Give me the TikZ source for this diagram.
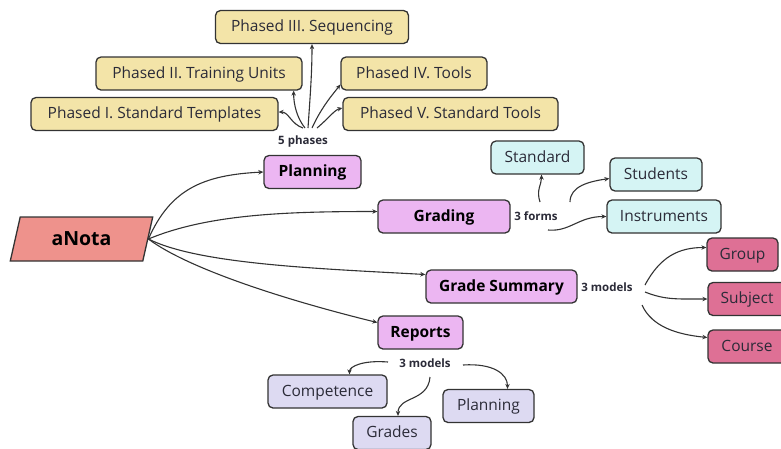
\documentclass[tikz,border=0pt]{standalone}
\usepackage{fontspec}
\setmainfont{Open Sans}
\usepackage{tikz}
\usetikzlibrary{arrows.meta,shapes.geometric}

\definecolor{phaseyellow}{HTML}{F3E4A8}
\definecolor{modpink}{HTML}{ECB6F2}
\definecolor{formcyan}{HTML}{D5F4F4}
\definecolor{summrose}{HTML}{DE7095}
\definecolor{replav}{HTML}{DDDAF2}
\definecolor{rootsalmon}{HTML}{EE928C}
\definecolor{edgegray}{HTML}{333333}
\definecolor{inkgray}{HTML}{2B2B38}

\tikzset{
  box/.style={draw=edgegray, line width=1.3pt, rounded corners=5pt, minimum height=33pt,
    inner sep=0pt, text height=11pt, text depth=2pt, text=inkgray, font=\fontsize{15.5}{18}\selectfont},
  phase/.style={box, fill=phaseyellow},
  module/.style={box, fill=modpink, text=black, font=\bfseries\fontsize{15.5}{18}\selectfont},
  form/.style={box, fill=formcyan},
  level/.style={box, fill=summrose},
  report/.style={box, fill=replav},
  root/.style={trapezium, trapezium left angle=71, trapezium right angle=109, trapezium stretches=true,
    draw=edgegray, line width=1.3pt, fill=rootsalmon, minimum width=143pt, minimum height=44pt,
    inner sep=0pt, text=black, font=\bfseries\fontsize{19.5}{22}\selectfont},
  tag/.style={inner sep=2pt, text=inkgray, font=\bfseries\fontsize{11.5}{13}\selectfont},
  link/.style={draw=edgegray, line width=1.1pt, -{Stealth[length=5pt,width=4.5pt]}}
}

\begin{document}
\begin{tikzpicture}[x=1pt,y=-1pt]
			%%%%% START %%%%%
			\useasboundingbox (0,0) rectangle (781,448);
			
			% phases
			\node[phase, minimum width=193pt] (p3) at (312,27) {Phased III. Sequencing};
			\node[phase, minimum width=206pt] (p2) at (199,73.5) {Phased II. Training Units};
			\node[phase, minimum width=146pt] (p4) at (414,73.5) {Phased IV. Tools};
			\node[phase, minimum width=247pt] (p1) at (154.5,114) {Phased I. Standard Templates};
			\node[phase, minimum width=215pt] (p5) at (450.5,114) {Phased V. Standard Tools};
			\node[tag] (phases) at (303,142) {5 phases};
			
			% main modules
			\node[root] (anota) at (81.5,239) {aNota};
			\node[module, minimum width=97pt] (planning) at (312.5,172) {Planning};
			\node[module, minimum width=132pt] (grading) at (444,216.5) {Grading};
			\node[module, minimum width=151pt] (summary) at (501.5,286.5) {Grade Summary};
			\node[module, minimum width=85pt] (reports) at (420.5,332.5) {Reports};
			
			% grading forms
			\node[tag] (forms) at (536,216) {3 forms};
			\node[form, minimum width=93pt] (standard) at (537.5,157.5) {Standard};
			\node[form, minimum width=92pt] (students) at (656,174.5) {Students};
			\node[form, minimum width=114pt] (instruments) at (664,216.5) {Instruments};
			
			% summary models
			\node[tag] (summodels) at (607,287) {3 models};
			\node[level, minimum width=71pt] (group) at (742.5,254.5) {Group};
			\node[level, minimum width=78pt] (subject) at (747,299) {Subject};
			\node[level, minimum width=78pt] (course) at (747,346.5) {Course};
			
			% report models
			\node[tag] (repmodels) at (425,363) {3 models};
			\node[report, minimum width=119pt] (competence) at (327.5,391.5) {Competence};
			\node[report, minimum width=78pt] (grades) at (392,433) {Grades};
			\node[report, minimum width=91pt] (planrep) at (488.5,406) {Planning};
			
			% aNota to modules
			\draw[link] (anota.east) .. controls +(22,-50) and +(-60,3) .. (planning.west);
			\draw[link] (anota.east) .. controls +(60,-25) and +(-90,0) .. ([yshift=5pt]grading.west);
			\draw[link] (anota.east) .. controls +(50,25) and +(-110,-6) .. ([yshift=12pt]summary.west);
			\draw[link] (anota.east) .. controls +(40,30) and +(-90,-22) .. ([yshift=10pt]reports.west);
			
			% five phases
			\draw[link] ([xshift=0pt,yshift=14pt]phases.center) .. controls +(-12,-4) and +(10,0) .. ([yshift=2pt]p1.east);
			\draw[link] ([xshift=2pt,yshift=14pt]phases.center) .. controls +(-8,-10) and +(0,14) .. ([xshift=-9pt]p2.south east);
			\draw[link] ([xshift=5pt,yshift=14pt]phases.center) .. controls +(2,-30) and +(0,30) .. (p3.south);
			\draw[link] ([xshift=9pt,yshift=14pt]phases.center) .. controls +(10,-22) and +(-6,8) .. ([yshift=-11pt]p4.west);
			\draw[link] ([xshift=14pt,yshift=14pt]phases.center) .. controls +(12,-10) and +(-8,2) .. ([yshift=6pt]p5.west);
			
			% three forms
			\draw[link] ([xshift=4pt,yshift=14pt]forms.center) .. controls +(-4,-12) and +(0,10) .. ([xshift=4pt]standard.south);
			\draw[link] ([xshift=34pt,yshift=14pt]forms.center) .. controls +(0,-16) and +(-20,3) .. ([yshift=-4pt]students.west);
			\draw[link] ([xshift=12pt,yshift=-14pt]forms.center) .. controls +(22,2) and +(-28,0) .. (instruments.west);
			
			% three summary models
			\draw[link] ([xshift=38pt,yshift=2pt]summodels.center) .. controls +(15,-28) and +(-28,0) .. ([yshift=7pt]group.west);
			\draw[link] ([xshift=38pt,yshift=-5pt]summodels.center) .. controls +(20,8) and +(-30,0) .. (subject.west);
			\draw[link] ([xshift=35pt,yshift=-18pt]summodels.center) .. controls +(10,22) and +(-30,-3) .. ([yshift=9pt]course.west);
			
			% three report models
			\draw[link] ([xshift=-37pt,yshift=1pt]repmodels.center) .. controls +(-25,-2) and +(0,-8) .. ([xshift=22pt]competence.north);
			\draw[link] ([xshift=5pt,yshift=-14pt]repmodels.center) .. controls +(-2,25) and +(0,-20) .. ([xshift=6pt]grades.north);
			\draw[link] ([xshift=38pt,yshift=-2pt]repmodels.center) .. controls +(30,-2) and +(0,-15) .. ([xshift=19pt]planrep.north);
			
			%%%%% END %%%%%
\end{tikzpicture}
\end{document}
